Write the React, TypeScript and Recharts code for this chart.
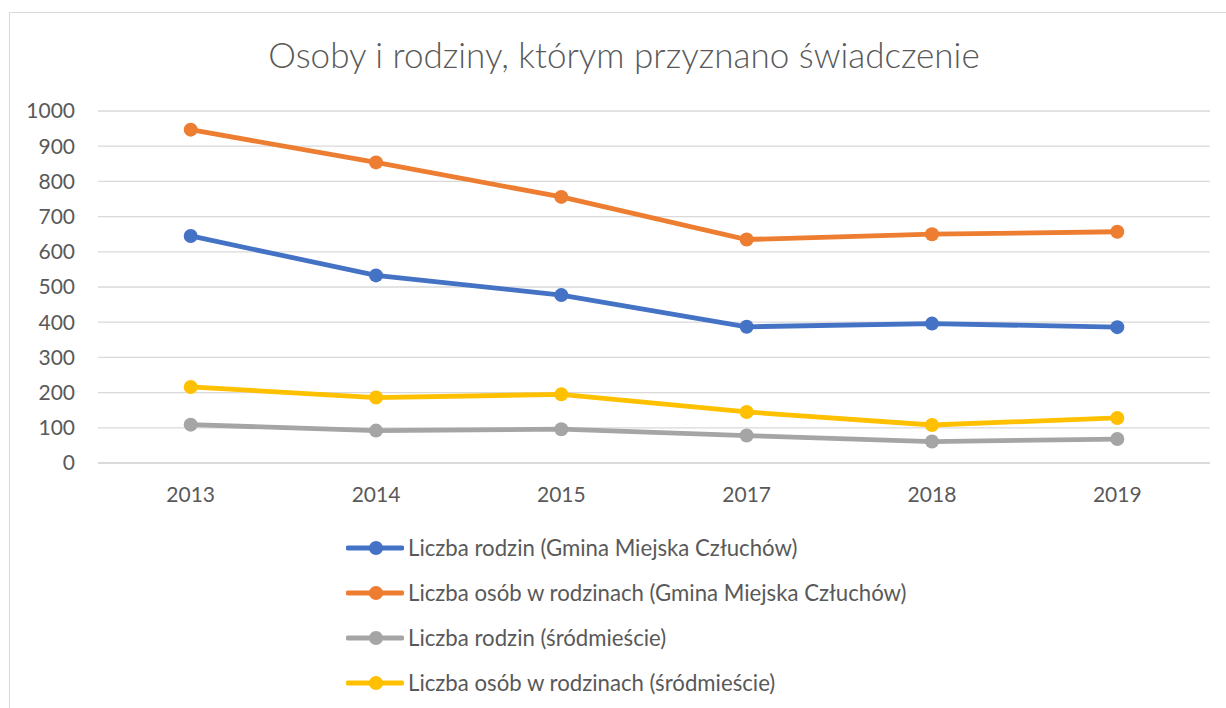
import React from 'react';
import { LineChart, Line, XAxis, YAxis, CartesianGrid, Legend } from 'recharts';

const years = ['2013', '2014', '2015', '2017', '2018', '2019'];
const rodzinyGmina = [645, 533, 477, 387, 396, 386];
const osobyGmina = [947, 854, 756, 635, 650, 657];
const rodzinySrod = [109, 92, 96, 78, 61, 68];
const osobySrod = [216, 186, 195, 145, 108, 128];
const yTicks = [0, 100, 200, 300, 400, 500, 600, 700, 800, 900, 1000];

const seriesNames = [
  'Liczba rodzin (Gmina Miejska Człuchów)',
  'Liczba osób w rodzinach (Gmina Miejska Człuchów)',
  'Liczba rodzin (śródmieście)',
  'Liczba osób w rodzinach (śródmieście)',
];
const colors = ['#4472C4', '#ED7D31', '#A5A5A5', '#FFC000'];

const data = years.map((y, i) => ({
  year: y,
  s0: rodzinyGmina[i],
  s1: osobyGmina[i],
  s2: rodzinySrod[i],
  s3: osobySrod[i],
}));

const FONT = 'Lato, "Open Sans", sans-serif';
const TEXT = '#595959';

const LegendContent = () => {
  return (
    <div style={{ fontFamily: FONT }}>
      {seriesNames.map((name, i) => (
        <div key={i} style={{ display: 'flex', alignItems: 'center', height: 45 }}>
          <svg width={58} height={16} style={{ display: 'block' }}>
            <line x1={2} y1={8} x2={56} y2={8} stroke={colors[i]} strokeWidth={4.8} strokeLinecap="round" />
            <circle cx={30} cy={8} r={7} fill={colors[i]} />
          </svg>
          <span style={{ color: TEXT, fontSize: 22.2, marginLeft: 4, whiteSpace: 'nowrap' }}>{name}</span>
        </div>
      ))}
    </div>
  );
};

export default function App() {
  return (
    <div style={{ position: 'fixed', left: 0, top: 0, width: 1226, height: 708, overflow: 'hidden', background: '#fff', fontFamily: FONT }}>
      <div style={{ position: 'absolute', left: 9, top: 12, width: 1300, height: 800, border: '1.5px solid #d9d9d9', boxSizing: 'border-box' }} />
      <div style={{ position: 'absolute', left: 0, top: 0 }}>
        <LineChart width={1226} height={708} data={data} margin={{ top: 111, right: 16, bottom: 215, left: 0 }}>
          <CartesianGrid vertical={false} stroke="#d9d9d9" strokeWidth={1.3} />
          <XAxis
            dataKey="year"
            height={30}
            padding={{ left: 92.7, right: 92.7 }}
            tickLine={false}
            axisLine={{ stroke: '#d9d9d9', strokeWidth: 1.3 }}
            tickSize={0}
            tickMargin={24}
            tick={{ fill: TEXT, fontSize: 21 }}
          />
          <YAxis
            width={98}
            domain={[0, 1000]}
            ticks={yTicks}
            interval={0}
            axisLine={false}
            tickLine={false}
            tickSize={0}
            tickMargin={23}
            tick={{ fill: TEXT, fontSize: 21 }}
          />
          <Legend
            layout="vertical"
            align="center"
            verticalAlign="middle"
            wrapperStyle={{ left: 346, top: 525, width: 700 }}
            content={<LegendContent />}
          />
          {seriesNames.map((name, i) => (
            <Line
              key={name}
              type="linear"
              dataKey={`s${i}`}
              name={name}
              stroke={colors[i]}
              strokeWidth={4.8}
              dot={{ r: 7, fill: colors[i], stroke: 'none' }}
              activeDot={false}
              isAnimationActive={false}
            />
          ))}
        </LineChart>
      </div>
      <div
        style={{
          position: 'absolute',
          left: 9,
          width: 1230,
          top: 33,
          textAlign: 'center',
          color: TEXT,
          fontSize: 35,
          fontWeight: 300,
          whiteSpace: 'nowrap',
          lineHeight: '42px',
        }}
      >
        Osoby i rodziny, którym przyznano świadczenie
      </div>
    </div>
  );
}
